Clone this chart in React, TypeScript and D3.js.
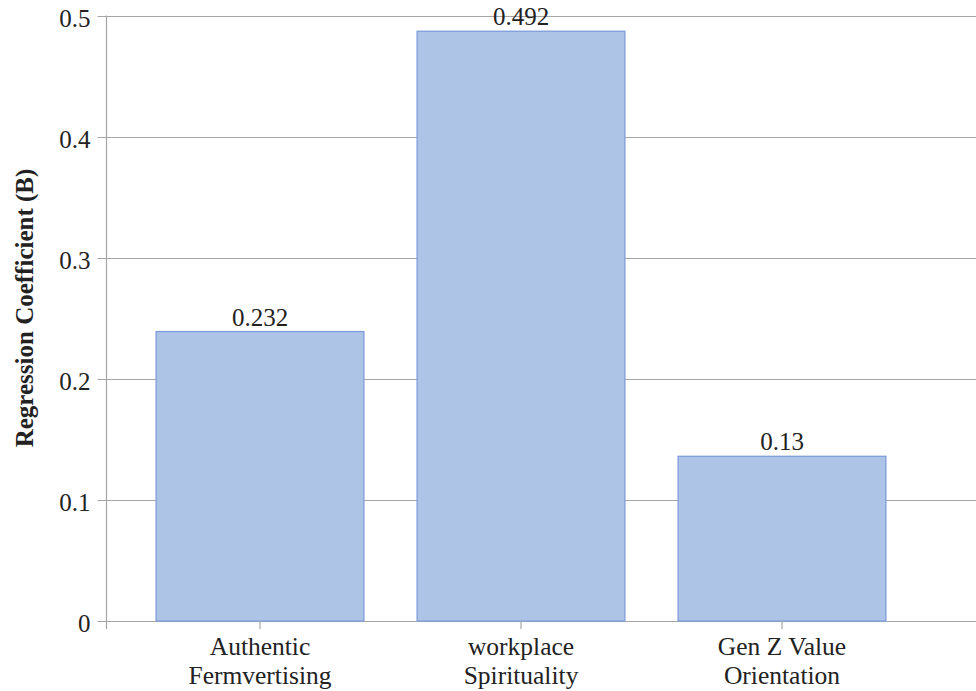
import * as d3 from 'd3';
import { useEffect, useRef } from 'react';

const categories = ['Authentic\nFermvertising', 'workplace\nSpirituality', 'Gen Z Value\nOrientation'];
const barValues = [0.239, 0.487, 0.136];
const barLabels = ['0.232', '0.492', '0.13'];
const yTicks = [0, 0.1, 0.2, 0.3, 0.4, 0.5];
const yTickLabels = ['0', '0.1', '0.2', '0.3', '0.4', '0.5'];
const yTitle = 'Regression Coefficient (B)';

const FONT = 'Liberation Serif';

export default function App() {
  const ref = useRef<SVGSVGElement | null>(null);
  useEffect(() => {
    if (!ref.current) return;
    const svg = d3.select(ref.current);
    svg.selectAll('*').remove();
    const width = 976;
    const height = 691;
    const axisX = 106.5;
    svg.attr('viewBox', `0 0 ${width} ${height}`).style('font-family', FONT);

    const x = d3
      .scaleBand<string>()
      .domain(categories)
      .range([129.5, 912.5])
      .paddingInner(0.2)
      .paddingOuter(0.1);
    const y = d3.scaleLinear().domain([0, 0.5]).range([621, 15.5]);

    // gridlines
    svg
      .append('g')
      .selectAll('line')
      .data(yTicks)
      .enter()
      .append('line')
      .attr('x1', axisX - 9)
      .attr('x2', width)
      .attr('y1', (d) => Math.round(y(d)) + 0.5)
      .attr('y2', (d) => Math.round(y(d)) + 0.5)
      .attr('stroke', '#a6a6a6')
      .attr('stroke-width', 1.2);

    // y axis line
    svg
      .append('line')
      .attr('x1', axisX)
      .attr('x2', axisX)
      .attr('y1', y(0.5))
      .attr('y2', y(0) + 8)
      .attr('stroke', '#a6a6a6')
      .attr('stroke-width', 1.2);

    svg
      .append('g')
      .selectAll('text')
      .data(yTicks)
      .enter()
      .append('text')
      .attr('x', axisX - 16)
      .attr('y', (d) => y(d))
      .attr('dy', '0.45em')
      .attr('text-anchor', 'end')
      .attr('font-family', FONT)
      .attr('font-size', 25)
      .attr('fill', '#222')
      .text((d, i) => yTickLabels[i]);

    // bars
    svg
      .append('g')
      .selectAll('rect')
      .data(barValues)
      .enter()
      .append('rect')
      .attr('x', (d, i) => (x(categories[i]) || 0) + 0.5)
      .attr('y', (d) => y(d))
      .attr('width', x.bandwidth() - 1)
      .attr('height', (d) => y(0) - y(d))
      .attr('fill', '#adc4e6')
      .attr('stroke', '#7f9ddb')
      .attr('stroke-width', 1.3);

    // bar labels
    svg
      .append('g')
      .selectAll('text')
      .data(barValues)
      .enter()
      .append('text')
      .attr('x', (d, i) => (x(categories[i]) || 0) + x.bandwidth() / 2)
      .attr('y', (d) => y(d) - 6)
      .attr('text-anchor', 'middle')
      .attr('font-family', FONT)
      .attr('font-size', 25)
      .attr('fill', '#222')
      .text((d, i) => barLabels[i]);

    // x ticks
    svg
      .append('g')
      .selectAll('line')
      .data(categories)
      .enter()
      .append('line')
      .attr('x1', (d) => (x(d) || 0) + x.bandwidth() / 2)
      .attr('x2', (d) => (x(d) || 0) + x.bandwidth() / 2)
      .attr('y1', y(0))
      .attr('y2', y(0) + 8)
      .attr('stroke', '#a6a6a6')
      .attr('stroke-width', 1.2);

    const cat = svg
      .append('g')
      .selectAll('text')
      .data(categories)
      .enter()
      .append('text')
      .attr('text-anchor', 'middle')
      .attr('font-family', FONT)
      .attr('font-size', 25.5)
      .attr('fill', '#222');
    cat
      .selectAll('tspan')
      .data((d) => d.split('\n').map((t) => ({ t, c: d })))
      .enter()
      .append('tspan')
      .attr('x', (d) => (x(d.c) || 0) + x.bandwidth() / 2)
      .attr('y', (d, i) => 655 + i * 29)
      .text((d) => d.t);

    svg
      .append('text')
      .attr('transform', 'translate(33, 308) rotate(-90)')
      .attr('text-anchor', 'middle')
      .attr('font-family', FONT)
      .attr('font-size', 25)
      .attr('font-weight', 'bold')
      .attr('fill', '#222')
      .text(yTitle);
  }, []);

  return (
    <svg
      ref={ref}
      width={976}
      height={691}
      style={{ position: 'absolute', left: 0, top: 0, background: '#fff' }}
    />
  );
}
